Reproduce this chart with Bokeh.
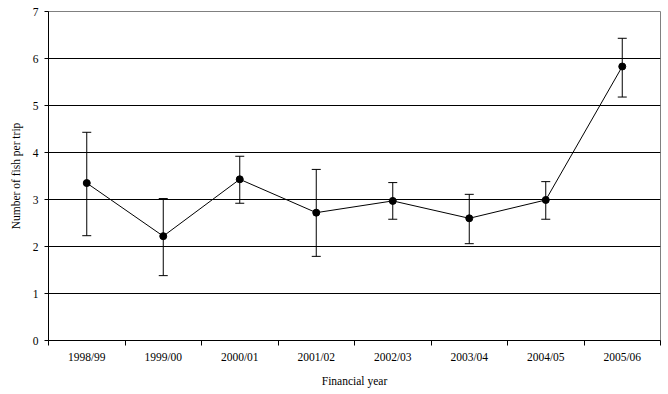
from bokeh.plotting import figure
from bokeh.models import ColumnDataSource, Whisker, TeeHead, FixedTicker, Range1d
from bokeh.embed import file_html
from bokeh.resources import INLINE

years = ["1998/99", "1999/00", "2000/01", "2001/02", "2002/03", "2003/04", "2004/05", "2005/06"]
mean_fish = [3.35, 2.22, 3.43, 2.72, 2.97, 2.60, 2.99, 5.83]
upper_err = [4.43, 3.02, 3.92, 3.64, 3.36, 3.11, 3.38, 6.43]
lower_err = [2.23, 1.38, 2.92, 1.79, 2.58, 2.06, 2.58, 5.18]
y_ticks = [0, 1, 2, 3, 4, 5, 6, 7]

FONT = "Liberation Serif"

xpos = [i + 0.5 for i in range(len(years))]
src = ColumnDataSource(dict(x=xpos, y=mean_fish, up=upper_err, lo=lower_err))

p = figure(width=668, height=394, output_backend="svg", toolbar_location=None,
           x_range=Range1d(0, len(years)), y_range=Range1d(0, 7),
           min_border_left=48, min_border_right=8, min_border_top=11, min_border_bottom=54)
p.background_fill_color = "white"
p.border_fill_color = "white"
p.outline_line_color = "#808080"
p.outline_line_width = 1

p.line("x", "y", source=src, line_color="black", line_width=1)
w = Whisker(source=src, base="x", upper="up", lower="lo", line_color="black", line_width=1,
            upper_head=TeeHead(size=9, line_color="black", line_width=1),
            lower_head=TeeHead(size=9, line_color="black", line_width=1))
p.add_layout(w)
p.scatter("x", "y", source=src, size=7, fill_color="black", line_color="black")

# x axis
xt = FixedTicker(ticks=xpos, minor_ticks=list(range(len(years) + 1)))
p.xaxis.ticker = xt
p.xaxis.major_label_overrides = {x: y for x, y in zip(xpos, years)}
p.xaxis.major_tick_out = 0
p.xaxis.major_tick_in = 0
p.xaxis.minor_tick_out = 5
p.xaxis.minor_tick_in = 0
p.xaxis.minor_tick_line_color = "black"
p.xaxis.axis_line_color = "black"
p.xaxis.axis_label = "Financial year"
p.xaxis.major_label_standoff = 5
p.xaxis.axis_label_standoff = 9

# y axis
p.yaxis.ticker = FixedTicker(ticks=y_ticks, minor_ticks=[])
p.yaxis.major_tick_out = 4
p.yaxis.major_tick_in = 0
p.yaxis.major_tick_line_color = "black"
p.yaxis.axis_line_color = "black"
p.yaxis.axis_label = "Number of fish per trip"
p.yaxis.major_label_standoff = 6
p.yaxis.axis_label_standoff = 8

for ax in (p.xaxis, p.yaxis):
    ax.major_label_text_font = FONT
    ax.major_label_text_font_size = "11.5px"
    ax.major_label_text_color = "black"
    ax.axis_label_text_font = FONT
    ax.axis_label_text_font_size = "11.5px"
    ax.axis_label_text_font_style = "normal"
    ax.axis_label_text_color = "black"

p.xgrid.visible = False
p.ygrid.ticker = FixedTicker(ticks=y_ticks[1:-1])
p.ygrid.grid_line_color = "black"
p.ygrid.grid_line_width = 1

open("out.html", "w").write(file_html(p, INLINE))
